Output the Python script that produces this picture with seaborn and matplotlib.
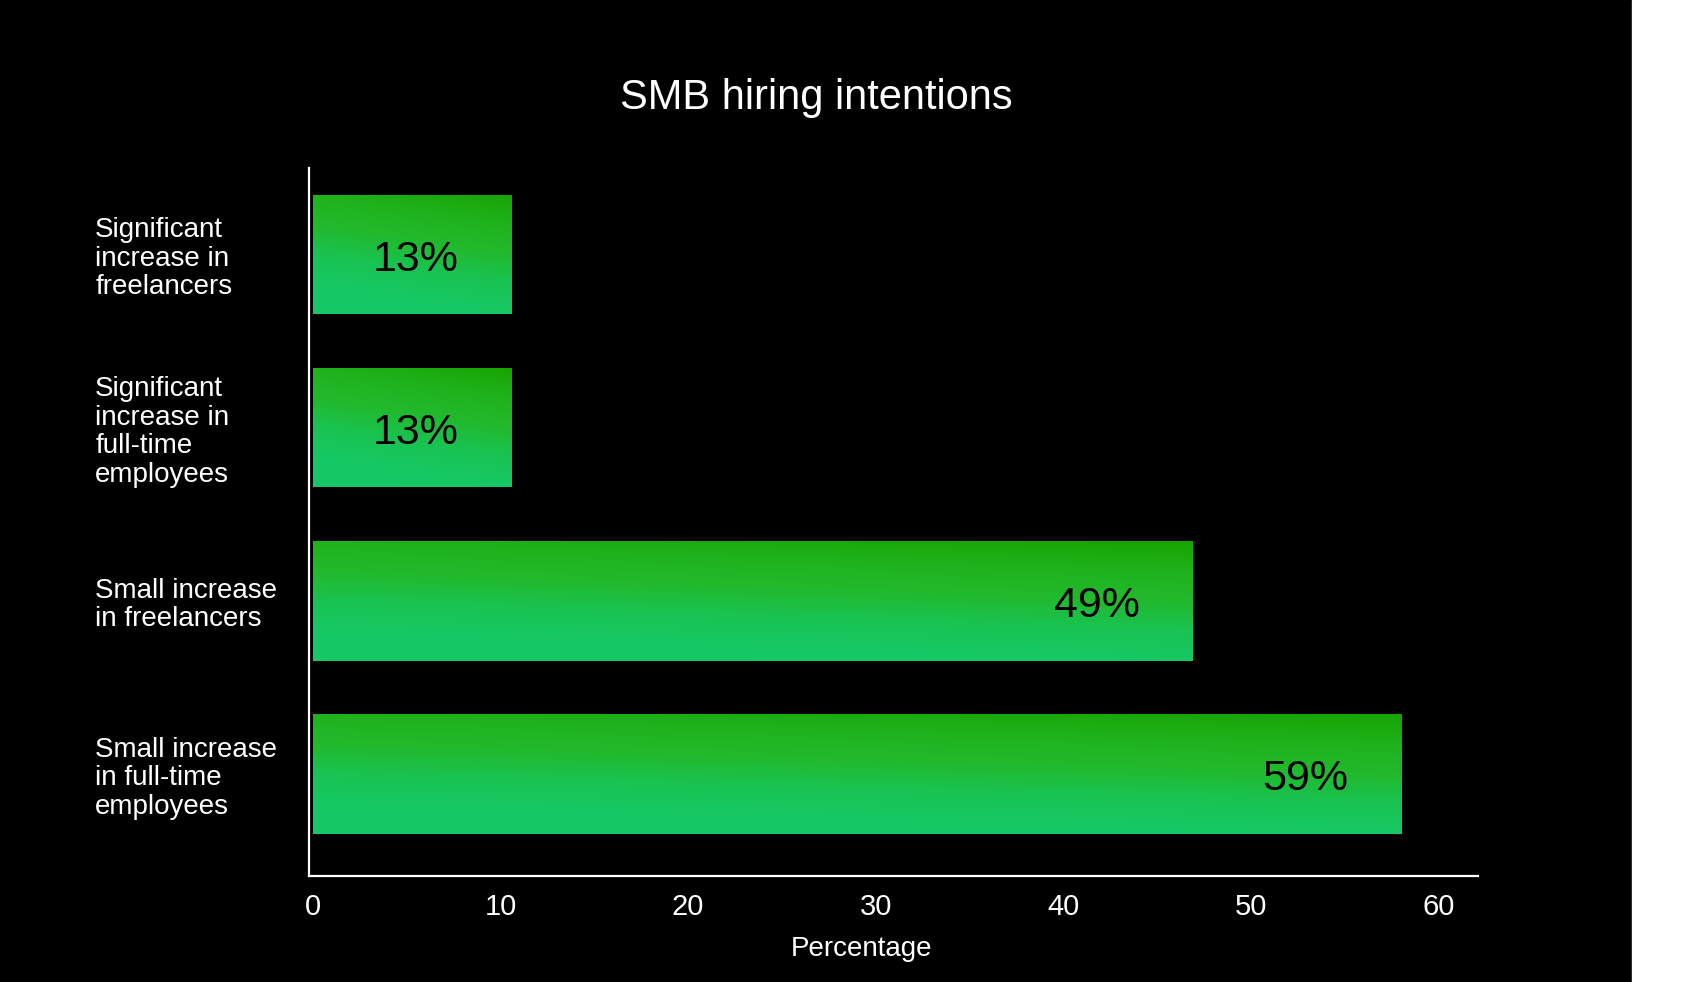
import numpy as np
import matplotlib.pyplot as plt
import seaborn as sns
from matplotlib.colors import LinearSegmentedColormap

categories = ['Significant\nincrease in\nfreelancers',
              'Significant\nincrease in\nfull-time\nemployees',
              'Small increase\nin freelancers',
              'Small increase\nin full-time\nemployees']
bar_len = [10.6, 10.6, 46.9, 58.0]      # bar ends
pct_labels = ['13%', '13%', '49%', '59%']
xticks = [0, 10, 20, 30, 40, 50, 60]

sns.set_theme(style='ticks', rc={'axes.facecolor': 'black', 'figure.facecolor': 'black',
                                 'text.color': 'white', 'xtick.color': 'white',
                                 'ytick.color': 'white', 'axes.labelcolor': 'white',
                                 'axes.edgecolor': 'white'})
plt.rcParams['font.family'] = ['Liberation Sans', 'DejaVu Sans']

fig = plt.figure(figsize=(17, 9.82), dpi=100)
ax = fig.add_axes([0.1818, 0.1079, 0.6876, 0.7210])
sns.barplot(x=bar_len, y=categories, orient='h', color='#19c25a', width=0.69,
            linewidth=0, edgecolor='none', ax=ax)

# gradient fill clipped to each bar
grad_cmap = LinearSegmentedColormap.from_list(
    'bar', ['#17a400', '#1fb21c', '#22b92c', '#19c352', '#16c864', '#17c966'])
yy, xx = np.mgrid[0:1:200j, 0:1:200j]
grad = 0.8 * yy + 0.2 * (1 - xx)
for i, p in enumerate(ax.patches):
    x0, y0, w, h = p.get_x(), p.get_y(), p.get_width(), p.get_height()
    im = ax.imshow(grad, cmap=grad_cmap, extent=(x0, x0 + w, y0 + h, y0),
                   aspect='auto', origin='upper', zorder=p.get_zorder() + 0.1)
    im.set_clip_path(p)
    ax.annotate(pct_labels[i], (x0 + w, y0 + h / 2),
                xytext=(-69, -4), textcoords='offset points',
                ha='center', va='center', fontsize=31, color='black', zorder=5)

ax.set_xlim(-0.2, 62.1)
ax.set_ylim(3.59, -0.5)
ax.set_xticks(xticks)
ax.tick_params(axis='x', length=0, pad=12, labelsize=21)
ax.tick_params(axis='y', length=0, pad=154, labelsize=20)
for lbl in ax.get_yticklabels():
    lbl.set_ha('left')
    lbl.set_linespacing(1.13)

ax.set_ylabel('')
ax.set_xlabel('Percentage', fontsize=20)
ax.xaxis.set_label_coords(0.473, -0.084)

sns.despine(ax=ax)
ax.spines['left'].set_linewidth(1.6)
ax.spines['bottom'].set_linewidth(1.6)

fig.text(0.48, 0.9005, 'SMB hiring intentions', ha='center', va='center',
         fontsize=30, color='white')

# white strip at the right edge
fig.add_artist(plt.Rectangle((0.96, 0), 0.04, 1, transform=fig.transFigure,
                             color='white'))

fig.savefig('out.png', dpi=100, facecolor='black')
